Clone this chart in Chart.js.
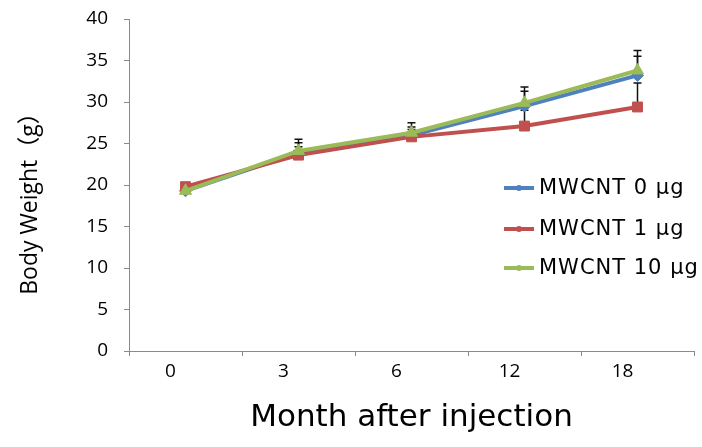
<!DOCTYPE html>
<html>
<head>
<meta charset="utf-8">
<script src="https://cdn.jsdelivr.net/npm/chart.js@4.4.1/dist/chart.umd.min.js"></script>
<style>
  html, body { margin: 0; padding: 0; background: #fff; }
  #wrap { width: 702px; height: 447px; }
</style>
</head>
<body>
<div id="wrap"><canvas id="grafico" width="702" height="447"></canvas></div>
<script>
// dados
const meses = ['0', '3', '6', '12', '18'];
const dose0 = [19.3, 23.9, 26.0, 29.5, 33.2];
const dose1 = [19.8, 23.6, 25.8, 27.1, 29.4];
const dose10 = [19.3, 24.1, 26.3, 29.9, 33.8];
// barras de erro (só para cima)
const erro0 = [0.4, 1.2, 1.0, 1.8, 2.3];
const erro1 = [0.3, 1.0, 0.9, 1.9, 2.9];
const erro10 = [0.3, 1.4, 1.2, 1.9, 2.4];
const yTicks = [0, 5, 10, 15, 20, 25, 30, 35, 40];

const azul = '#4F81BD';
const vermelho = '#C0504D';
const verde = '#9BBB59';

// desenha as barras de erro por baixo das linhas
const barrasErro = {
    id: 'barrasErro',
    beforeDatasetsDraw(chart) {
        const ctx = chart.ctx;
        const y = chart.scales.y;
        ctx.save();
        ctx.strokeStyle = '#111';
        ctx.lineWidth = 1.5;
        chart.data.datasets.forEach((ds, i) => {
            const meta = chart.getDatasetMeta(i);
            meta.data.forEach((pt, j) => {
                const topo = y.getPixelForValue(ds.data[j] + ds.erro[j]);
                ctx.beginPath();
                ctx.moveTo(pt.x, pt.y);
                ctx.lineTo(pt.x, topo);
                ctx.moveTo(pt.x - 4, topo);
                ctx.lineTo(pt.x + 4, topo);
                ctx.stroke();
            });
        });
        ctx.restore();
    }
};

// legenda dentro da área do gráfico + título do eixo Y
const legendaTitulo = {
    id: 'legendaTitulo',
    afterDraw(chart) {
        const ctx = chart.ctx;
        ctx.save();
        const linhas = [188, 229, 268];
        chart.data.datasets.forEach((ds, i) => {
            const yy = linhas[i];
            ctx.strokeStyle = ds.borderColor;
            ctx.lineWidth = 4;
            ctx.beginPath();
            ctx.moveTo(504, yy);
            ctx.lineTo(534, yy);
            ctx.stroke();
            ctx.fillStyle = ds.backgroundColor;
            ctx.beginPath();
            ctx.arc(519, yy, 3, 0, Math.PI * 2);
            ctx.fill();
            ctx.fillStyle = '#000';
            ctx.font = '21px "DejaVu Sans"';
            ctx.letterSpacing = '1px';
            ctx.textAlign = 'left';
            ctx.textBaseline = 'middle';
            ctx.fillText(ds.label, 539, yy + 1);
        });
        ctx.letterSpacing = '0px';
        ctx.translate(30, 198);
        ctx.rotate(-Math.PI / 2);
        ctx.font = '23px "Open Sans", "Noto Sans CJK JP"';
        ctx.textAlign = 'center';
        ctx.textBaseline = 'middle';
        ctx.fillStyle = '#000';
        ctx.fillText('Body Weight（g）', 0, 0);
        ctx.restore();
    }
};

const ctx = document.getElementById('grafico').getContext('2d');
new Chart(ctx, {
    type: 'line',
    data: {
        labels: meses,
        datasets: [
            { label: 'MWCNT 0 µg', data: dose0, erro: erro0, borderColor: azul, backgroundColor: azul,
              pointStyle: 'rectRot', pointRadius: 6, order: 3 },
            { label: 'MWCNT 1 µg', data: dose1, erro: erro1, borderColor: vermelho, backgroundColor: vermelho,
              pointStyle: 'rect', pointRadius: 7, order: 2 },
            { label: 'MWCNT 10 µg', data: dose10, erro: erro10, borderColor: verde, backgroundColor: verde,
              pointStyle: 'triangle', pointRadius: 7, order: 1 }
        ]
    },
    options: {
        responsive: false,
        animation: false,
        layout: { padding: { top: 19, right: 3, left: 0, bottom: 0 } },
        elements: {
            line: { borderWidth: 4, tension: 0 },
            point: { borderWidth: 1, hoverRadius: 7 }
        },
        plugins: { legend: { display: false }, tooltip: { enabled: false } },
        scales: {
            x: {
                offset: true,
                afterFit(s) { s.height = 96; },
                grid: { offset: true, drawOnChartArea: false, drawTicks: true, tickLength: 5, color: '#8a8a8a' },
                border: { display: true, color: '#8a8a8a', width: 1 },
                ticks: { color: '#000', font: { family: 'Open Sans', size: 19 }, padding: 4, labelOffset: -15, maxRotation: 0 },
                title: { display: true, text: 'Month after injection', color: '#000',
                         font: { family: 'DejaVu Sans', size: 31 }, padding: { top: 0, bottom: 10 } }
            },
            y: {
                min: 0,
                max: 40,
                afterFit(s) {
                    s.width = 129;
                    // o padding dos rótulos não deve empurrar a área do gráfico
                    s.paddingTop = 10;
                    s.paddingBottom = 10;
                },
                afterBuildTicks(s) { s.ticks = yTicks.map(v => ({ value: v })); },
                grid: { drawOnChartArea: false, drawTicks: true, tickLength: 5, color: '#8a8a8a' },
                border: { display: true, color: '#8a8a8a', width: 1 },
                ticks: { color: '#000', font: { family: 'Open Sans', size: 19 }, padding: 16 }
            }
        }
    },
    plugins: [barrasErro, legendaTitulo]
});
</script>
</body>
</html>
